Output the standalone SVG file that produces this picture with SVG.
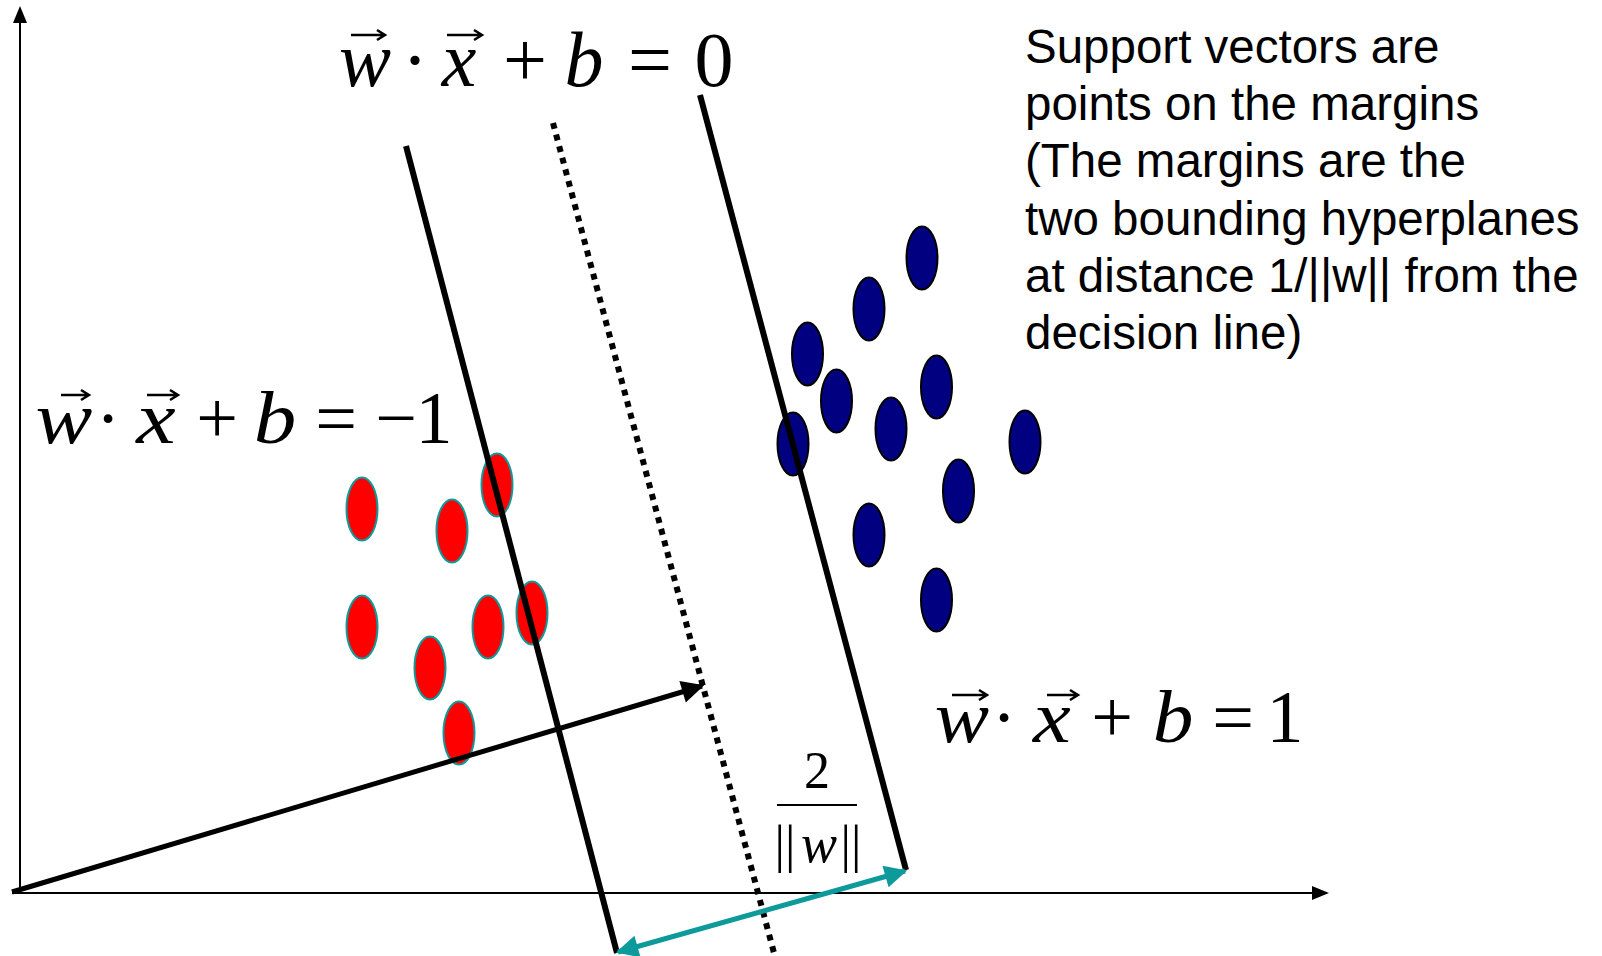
<svg xmlns="http://www.w3.org/2000/svg" width="1602" height="956" viewBox="0 0 1602 956">
<defs>
<style>
.axis{stroke:#000;stroke-width:2;fill:none}
.margin{stroke:#000;stroke-width:6;fill:none}
.dotted{stroke:#000;stroke-width:6;fill:none;stroke-dasharray:6 6}
.red{fill:#FF0000;stroke:#0E9A9A;stroke-width:2}
.blue{fill:#000080;stroke:#000;stroke-width:2}
.mi{font-family:"Liberation Serif",serif;font-style:italic;fill:#000;text-anchor:middle}
.mr{font-family:"Liberation Serif",serif;fill:#000;text-anchor:middle}
.vec{stroke:#000;stroke-width:2.5;fill:none}
.note{font-family:"Liberation Sans",Arial,sans-serif;font-size:47.5px;fill:#000}
</style>
<marker id="ah" viewBox="0 0 10 10" refX="9" refY="5" markerWidth="5.5" markerHeight="4.5" markerUnits="strokeWidth" orient="auto">
<path d="M0,0 L10,5 L0,10 Z" fill="#000"/>
</marker>
<marker id="th" viewBox="0 0 10 10" refX="9" refY="5" markerWidth="6" markerHeight="4.5" markerUnits="strokeWidth" orient="auto-start-reverse">
<path d="M0,0 L10,5 L0,10 Z" fill="#0E9A9A"/>
</marker>
</defs>
<rect width="1602" height="956" fill="#fff"/>

<g id="axes">
<line class="axis" x1="20" y1="893" x2="20" y2="20"/>
<path d="M20,6 L13,23 L27,23 Z" fill="#000"/>
<line class="axis" x1="12" y1="893" x2="1314" y2="893"/>
<path d="M1329,893 L1312,886 L1312,900 Z" fill="#000"/>
</g>

<g id="red-points">
<ellipse class="red" cx="362" cy="509" rx="15.5" ry="31.5"/>
<ellipse class="red" cx="452" cy="531" rx="15.5" ry="31.5"/>
<ellipse class="red" cx="497" cy="485" rx="15.5" ry="31.5"/>
<ellipse class="red" cx="362" cy="627" rx="15.5" ry="31.5"/>
<ellipse class="red" cx="430" cy="668" rx="15.5" ry="31.5"/>
<ellipse class="red" cx="488" cy="627" rx="15.5" ry="31.5"/>
<ellipse class="red" cx="532" cy="613" rx="15.5" ry="31.5"/>
<ellipse class="red" cx="459" cy="733" rx="15.5" ry="31.5"/>
</g>

<g id="blue-points">
<ellipse class="blue" cx="922" cy="258" rx="15.5" ry="31.5"/>
<ellipse class="blue" cx="869" cy="309" rx="15.5" ry="31.5"/>
<ellipse class="blue" cx="807.5" cy="354" rx="15.5" ry="31.5"/>
<ellipse class="blue" cx="836.5" cy="401" rx="15.5" ry="31.5"/>
<ellipse class="blue" cx="936.5" cy="387" rx="15.5" ry="31.5"/>
<ellipse class="blue" cx="891" cy="429" rx="15.5" ry="31.5"/>
<ellipse class="blue" cx="793" cy="444" rx="15.5" ry="31.5"/>
<ellipse class="blue" cx="1025" cy="442" rx="15.5" ry="31.5"/>
<ellipse class="blue" cx="958.5" cy="491" rx="15.5" ry="31.5"/>
<ellipse class="blue" cx="869" cy="535" rx="15.5" ry="31.5"/>
<ellipse class="blue" cx="936.5" cy="600" rx="15.5" ry="31.5"/>
</g>

<g id="connectors">
<line id="margin-minus" class="margin" x1="406" y1="146" x2="617" y2="953"/>
<line id="decision" class="dotted" x1="553" y1="123" x2="774" y2="953"/>
<line id="margin-plus" class="margin" x1="700" y1="95" x2="906" y2="870"/>
<line id="w-vector" stroke="#000" stroke-width="5" x1="12" y1="892" x2="702" y2="686" marker-end="url(#ah)"/>
<line id="width-arrow" stroke="#0E9A9A" stroke-width="5" x1="618" y1="952" x2="905" y2="871" marker-start="url(#th)" marker-end="url(#th)"/>
</g>

<g id="eq-zero">
<text class="mi" x="365" y="86" font-size="78">w</text>
<path class="vec" d="M351,35 H384 M377,30 L385,35 L377,40"/>
<text class="mr" x="415" y="86" font-size="78">·</text>
<text class="mi" x="459" y="86" font-size="78">x</text>
<path class="vec" d="M447,35 H481 M474,30 L482,35 L474,40"/>
<text class="mr" x="525" y="86" font-size="78">+</text>
<text class="mi" x="584" y="86" font-size="78">b</text>
<text class="mr" x="650" y="86" font-size="78">=</text>
<text class="mr" x="714" y="86" font-size="78">0</text>
</g>

<g id="eq-minus">
<text class="mi" transform="translate(64,443) scale(1.15,1)" font-size="74">w</text>
<path class="vec" d="M61,395 H88 M81,390 L89,395 L81,400"/>
<text class="mr" x="108" y="443" font-size="74">·</text>
<text class="mi" transform="translate(156,443) scale(1.2,1)" font-size="74">x</text>
<path class="vec" d="M147,395 H177 M170,390 L178,395 L170,400"/>
<text class="mr" x="217" y="443" font-size="74">+</text>
<text class="mi" transform="translate(275,443) scale(1.15,1)" font-size="74">b</text>
<text class="mr" x="336" y="443" font-size="74">=</text>
<text class="mr" x="396" y="443" font-size="74">−</text>
<text class="mr" x="434" y="443" font-size="74">1</text>
</g>

<g id="eq-plus">
<text class="mi" transform="translate(962,742) scale(1.1,1)" font-size="74">w</text>
<path class="vec" d="M952,695 H986 M979,690 L987,695 L979,700"/>
<text class="mr" x="1004" y="742" font-size="74">·</text>
<text class="mi" transform="translate(1052,742) scale(1.15,1)" font-size="74">x</text>
<path class="vec" d="M1047,695 H1077 M1070,690 L1078,695 L1070,700"/>
<text class="mr" x="1112" y="742" font-size="74">+</text>
<text class="mi" transform="translate(1173,742) scale(1.1,1)" font-size="74">b</text>
<text class="mr" x="1233" y="742" font-size="74">=</text>
<text class="mr" x="1285" y="742" font-size="74">1</text>
</g>

<g id="fraction">
<text class="mr" x="817" y="788" font-size="52">2</text>
<line x1="777" y1="805" x2="857" y2="805" stroke="#000" stroke-width="2"/>
<text class="mr" x="785" y="862" font-size="52">||</text>
<text class="mi" x="819" y="862" font-size="54">w</text>
<text class="mr" x="851" y="862" font-size="52">||</text>
</g>

<g id="note">
<text class="note" x="1025" y="63">Support vectors are</text>
<text class="note" x="1025" y="120">points on the margins</text>
<text class="note" x="1025" y="177">(The margins are the</text>
<text class="note" x="1025" y="235">two bounding hyperplanes</text>
<text class="note" x="1025" y="292">at distance 1/||w|| from the</text>
<text class="note" x="1025" y="349">decision line)</text>
</g>
</svg>
